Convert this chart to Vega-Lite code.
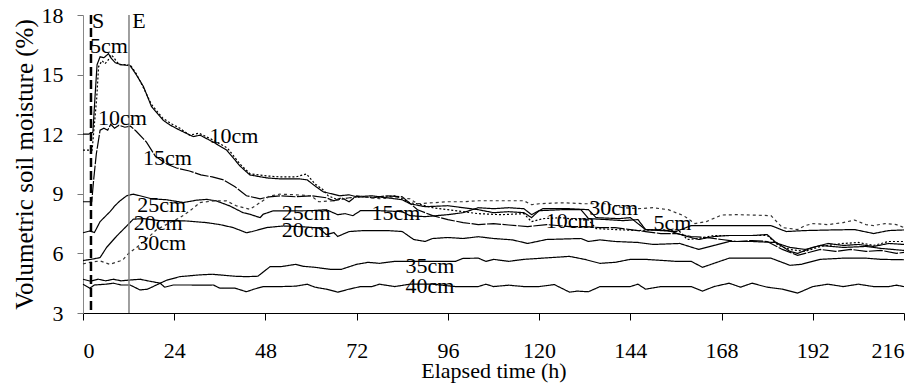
{
"$schema":"https://vega.github.io/schema/vega-lite/v6.json",
"width":821,"height":298,
"autosize":{"type":"none"},
"padding":{"left":83,"top":15,"right":20,"bottom":72},
"background":"#ffffff",
"config":{"view":{"stroke":null},"font":"Liberation Serif, Times New Roman, serif","axis":{"grid":false}},
"datasets":{
"lines":[
{"s":"5cm","h":0,"v":12.0},{"s":"5cm","h":1.5,"v":12.0},{"s":"5cm","h":2.6,"v":12.1},{"s":"5cm","h":3.2,"v":14.0},{"s":"5cm","h":3.7,"v":15.5},{"s":"5cm","h":4.5,"v":15.9},{"s":"5cm","h":5.5,"v":15.85},{"s":"5cm","h":6.7,"v":16.05},{"s":"5cm","h":7.5,"v":15.8},{"s":"5cm","h":8.5,"v":15.6},{"s":"5cm","h":10,"v":15.5},{"s":"5cm","h":12.4,"v":15.45},{"s":"5cm","h":14,"v":15.0},{"s":"5cm","h":15.9,"v":14.4},{"s":"5cm","h":18,"v":13.4},{"s":"5cm","h":21.1,"v":12.7},{"s":"5cm","h":23,"v":12.45},{"s":"5cm","h":25.5,"v":12.2},{"s":"5cm","h":29,"v":11.88},{"s":"5cm","h":30.8,"v":11.95},{"s":"5cm","h":34.3,"v":11.6},{"s":"5cm","h":37.8,"v":11.2},{"s":"5cm","h":41.3,"v":10.4},{"s":"5cm","h":43.9,"v":9.95},{"s":"5cm","h":48.3,"v":9.8},{"s":"5cm","h":52,"v":9.75},{"s":"5cm","h":57,"v":9.75},{"s":"5cm","h":59,"v":9.7},{"s":"5cm","h":61,"v":9.4},{"s":"5cm","h":63.2,"v":9.1},{"s":"5cm","h":67.6,"v":8.9},{"s":"5cm","h":70,"v":8.95},{"s":"5cm","h":72,"v":8.85},{"s":"5cm","h":76,"v":8.9},{"s":"5cm","h":80,"v":8.8},{"s":"5cm","h":84,"v":8.7},{"s":"5cm","h":86,"v":8.5},{"s":"5cm","h":90,"v":8.35},{"s":"5cm","h":96,"v":8.4},{"s":"5cm","h":100,"v":8.3},{"s":"5cm","h":104,"v":8.2},{"s":"5cm","h":108,"v":8.05},{"s":"5cm","h":112,"v":8.1},{"s":"5cm","h":116,"v":8.05},{"s":"5cm","h":118,"v":7.8},{"s":"5cm","h":120,"v":8.15},{"s":"5cm","h":126,"v":8.2},{"s":"5cm","h":131,"v":8.2},{"s":"5cm","h":133,"v":7.75},{"s":"5cm","h":138,"v":7.7},{"s":"5cm","h":142,"v":7.65},{"s":"5cm","h":146,"v":7.7},{"s":"5cm","h":148,"v":7.2},{"s":"5cm","h":154,"v":7.15},{"s":"5cm","h":158,"v":6.9},{"s":"5cm","h":162,"v":6.7},{"s":"5cm","h":166,"v":6.85},{"s":"5cm","h":170,"v":6.9},{"s":"5cm","h":176,"v":6.9},{"s":"5cm","h":180,"v":6.95},{"s":"5cm","h":182,"v":6.6},{"s":"5cm","h":186,"v":6.1},{"s":"5cm","h":188,"v":6.0},{"s":"5cm","h":192,"v":6.3},{"s":"5cm","h":196,"v":6.5},{"s":"5cm","h":200,"v":6.4},{"s":"5cm","h":204,"v":6.45},{"s":"5cm","h":208,"v":6.35},{"s":"5cm","h":212,"v":6.5},{"s":"5cm","h":216,"v":6.45},
{"s":"10cm","h":0,"v":11.2},{"s":"10cm","h":2.4,"v":11.2},{"s":"10cm","h":3.0,"v":12.5},{"s":"10cm","h":3.6,"v":13.8},{"s":"10cm","h":4.1,"v":15.4},{"s":"10cm","h":5,"v":15.7},{"s":"10cm","h":5.8,"v":15.55},{"s":"10cm","h":6.5,"v":15.7},{"s":"10cm","h":7.5,"v":16.0},{"s":"10cm","h":8.3,"v":15.8},{"s":"10cm","h":9.5,"v":15.5},{"s":"10cm","h":12.4,"v":15.5},{"s":"10cm","h":14,"v":15.05},{"s":"10cm","h":16,"v":14.3},{"s":"10cm","h":18,"v":13.5},{"s":"10cm","h":21,"v":12.8},{"s":"10cm","h":23.5,"v":12.5},{"s":"10cm","h":25.5,"v":12.3},{"s":"10cm","h":28,"v":11.95},{"s":"10cm","h":30.5,"v":12.05},{"s":"10cm","h":34.3,"v":11.7},{"s":"10cm","h":38,"v":11.3},{"s":"10cm","h":41.3,"v":10.5},{"s":"10cm","h":44,"v":10.0},{"s":"10cm","h":48.3,"v":9.9},{"s":"10cm","h":52,"v":9.85},{"s":"10cm","h":56,"v":9.85},{"s":"10cm","h":58.8,"v":10.0},{"s":"10cm","h":61,"v":9.5},{"s":"10cm","h":63.2,"v":9.2},{"s":"10cm","h":64.5,"v":8.9},{"s":"10cm","h":67,"v":8.7},{"s":"10cm","h":70,"v":8.8},{"s":"10cm","h":74,"v":8.85},{"s":"10cm","h":78,"v":8.8},{"s":"10cm","h":82,"v":8.9},{"s":"10cm","h":84,"v":8.75},{"s":"10cm","h":86,"v":8.55},{"s":"10cm","h":88,"v":8.5},{"s":"10cm","h":92,"v":8.3},{"s":"10cm","h":96,"v":8.2},{"s":"10cm","h":100,"v":8.1},{"s":"10cm","h":104,"v":8.0},{"s":"10cm","h":110,"v":7.95},{"s":"10cm","h":116,"v":8.0},{"s":"10cm","h":118,"v":7.6},{"s":"10cm","h":121,"v":7.75},{"s":"10cm","h":126,"v":7.8},{"s":"10cm","h":130,"v":7.7},{"s":"10cm","h":133,"v":7.68},{"s":"10cm","h":135,"v":7.25},{"s":"10cm","h":140,"v":7.2},{"s":"10cm","h":146,"v":7.15},{"s":"10cm","h":152,"v":7.2},{"s":"10cm","h":157,"v":7.1},{"s":"10cm","h":159,"v":6.7},{"s":"10cm","h":162,"v":6.75},{"s":"10cm","h":166,"v":6.9},{"s":"10cm","h":170,"v":6.9},{"s":"10cm","h":176,"v":6.9},{"s":"10cm","h":180,"v":6.9},{"s":"10cm","h":183,"v":6.4},{"s":"10cm","h":186,"v":6.2},{"s":"10cm","h":190,"v":6.1},{"s":"10cm","h":194,"v":6.35},{"s":"10cm","h":200,"v":6.5},{"s":"10cm","h":204,"v":6.55},{"s":"10cm","h":208,"v":6.4},{"s":"10cm","h":212,"v":6.6},{"s":"10cm","h":216,"v":6.6},
{"s":"15cm","h":0,"v":8.6},{"s":"15cm","h":2.3,"v":8.6},{"s":"15cm","h":2.8,"v":9.7},{"s":"15cm","h":3.5,"v":11.0},{"s":"15cm","h":4.5,"v":12.2},{"s":"15cm","h":5.5,"v":12.3},{"s":"15cm","h":6.5,"v":12.2},{"s":"15cm","h":7.3,"v":12.5},{"s":"15cm","h":8.3,"v":12.3},{"s":"15cm","h":9.5,"v":12.45},{"s":"15cm","h":11,"v":12.35},{"s":"15cm","h":12.5,"v":12.4},{"s":"15cm","h":14,"v":12.15},{"s":"15cm","h":16.7,"v":11.6},{"s":"15cm","h":19,"v":10.9},{"s":"15cm","h":22,"v":10.5},{"s":"15cm","h":24.6,"v":10.3},{"s":"15cm","h":28,"v":10.15},{"s":"15cm","h":31,"v":9.95},{"s":"15cm","h":34,"v":9.85},{"s":"15cm","h":37,"v":9.7},{"s":"15cm","h":40,"v":9.35},{"s":"15cm","h":43,"v":8.9},{"s":"15cm","h":46.6,"v":8.75},{"s":"15cm","h":49,"v":8.85},{"s":"15cm","h":52,"v":8.9},{"s":"15cm","h":56,"v":8.85},{"s":"15cm","h":60,"v":8.9},{"s":"15cm","h":64,"v":8.8},{"s":"15cm","h":66,"v":8.65},{"s":"15cm","h":68,"v":8.8},{"s":"15cm","h":70,"v":8.6},{"s":"15cm","h":72,"v":8.9},{"s":"15cm","h":76,"v":8.8},{"s":"15cm","h":80,"v":8.9},{"s":"15cm","h":84,"v":8.85},{"s":"15cm","h":88,"v":8.2},{"s":"15cm","h":92,"v":7.9},{"s":"15cm","h":96,"v":7.7},{"s":"15cm","h":100,"v":7.55},{"s":"15cm","h":104,"v":7.45},{"s":"15cm","h":108,"v":7.5},{"s":"15cm","h":112,"v":7.43},{"s":"15cm","h":117,"v":7.35},{"s":"15cm","h":122,"v":7.45},{"s":"15cm","h":128,"v":7.35},{"s":"15cm","h":132,"v":7.35},{"s":"15cm","h":136,"v":7.3},{"s":"15cm","h":140,"v":7.3},{"s":"15cm","h":144,"v":7.2},{"s":"15cm","h":148,"v":7.1},{"s":"15cm","h":152,"v":7.0},{"s":"15cm","h":156,"v":7.0},{"s":"15cm","h":160,"v":6.85},{"s":"15cm","h":164,"v":6.8},{"s":"15cm","h":168,"v":6.7},{"s":"15cm","h":172,"v":6.6},{"s":"15cm","h":176,"v":6.65},{"s":"15cm","h":180,"v":6.6},{"s":"15cm","h":184,"v":6.2},{"s":"15cm","h":188,"v":5.9},{"s":"15cm","h":190,"v":6.0},{"s":"15cm","h":194,"v":6.2},{"s":"15cm","h":198,"v":6.1},{"s":"15cm","h":202,"v":6.2},{"s":"15cm","h":206,"v":6.1},{"s":"15cm","h":210,"v":6.15},{"s":"15cm","h":214,"v":6.0},{"s":"15cm","h":216,"v":6.05},
{"s":"20cm","h":0,"v":5.64},{"s":"20cm","h":2.7,"v":5.72},{"s":"20cm","h":4.5,"v":5.79},{"s":"20cm","h":6.2,"v":6.3},{"s":"20cm","h":8.9,"v":6.88},{"s":"20cm","h":11.5,"v":7.38},{"s":"20cm","h":13.2,"v":7.72},{"s":"20cm","h":16,"v":7.75},{"s":"20cm","h":20,"v":7.65},{"s":"20cm","h":24,"v":7.65},{"s":"20cm","h":27.3,"v":7.63},{"s":"20cm","h":32.5,"v":7.55},{"s":"20cm","h":36,"v":7.45},{"s":"20cm","h":39.5,"v":7.3},{"s":"20cm","h":43,"v":7.04},{"s":"20cm","h":44.5,"v":7.1},{"s":"20cm","h":46.6,"v":7.21},{"s":"20cm","h":48.3,"v":7.3},{"s":"20cm","h":52.7,"v":7.38},{"s":"20cm","h":57.1,"v":7.35},{"s":"20cm","h":62,"v":7.28},{"s":"20cm","h":64,"v":6.95},{"s":"20cm","h":66,"v":7.05},{"s":"20cm","h":67,"v":6.85},{"s":"20cm","h":70,"v":7.1},{"s":"20cm","h":74,"v":7.15},{"s":"20cm","h":80,"v":7.15},{"s":"20cm","h":84,"v":7.1},{"s":"20cm","h":87,"v":6.7},{"s":"20cm","h":90,"v":6.6},{"s":"20cm","h":92,"v":6.75},{"s":"20cm","h":96,"v":6.8},{"s":"20cm","h":100,"v":6.75},{"s":"20cm","h":104,"v":6.84},{"s":"20cm","h":108,"v":6.75},{"s":"20cm","h":113,"v":6.68},{"s":"20cm","h":117,"v":6.5},{"s":"20cm","h":122,"v":6.7},{"s":"20cm","h":131,"v":6.75},{"s":"20cm","h":133,"v":6.6},{"s":"20cm","h":136,"v":6.68},{"s":"20cm","h":140,"v":6.6},{"s":"20cm","h":146,"v":6.55},{"s":"20cm","h":150,"v":6.45},{"s":"20cm","h":157,"v":6.5},{"s":"20cm","h":162,"v":6.2},{"s":"20cm","h":166,"v":6.4},{"s":"20cm","h":170,"v":6.6},{"s":"20cm","h":176,"v":6.6},{"s":"20cm","h":182,"v":6.55},{"s":"20cm","h":186,"v":6.3},{"s":"20cm","h":190,"v":6.2},{"s":"20cm","h":194,"v":6.4},{"s":"20cm","h":200,"v":6.3},{"s":"20cm","h":206,"v":6.35},{"s":"20cm","h":210,"v":6.25},{"s":"20cm","h":216,"v":6.15},
{"s":"25cm","h":0,"v":7.04},{"s":"25cm","h":1.8,"v":7.13},{"s":"25cm","h":3,"v":7.05},{"s":"25cm","h":4.5,"v":7.6},{"s":"25cm","h":7.1,"v":8.1},{"s":"25cm","h":8.4,"v":8.4},{"s":"25cm","h":9.7,"v":8.64},{"s":"25cm","h":11.5,"v":8.9},{"s":"25cm","h":13.2,"v":8.98},{"s":"25cm","h":15,"v":8.9},{"s":"25cm","h":18,"v":8.75},{"s":"25cm","h":22,"v":8.7},{"s":"25cm","h":26.4,"v":8.56},{"s":"25cm","h":29.9,"v":8.68},{"s":"25cm","h":32.5,"v":8.72},{"s":"25cm","h":35.1,"v":8.64},{"s":"25cm","h":38.6,"v":8.39},{"s":"25cm","h":42.1,"v":8.05},{"s":"25cm","h":43.9,"v":7.97},{"s":"25cm","h":46.6,"v":7.8},{"s":"25cm","h":47.4,"v":7.97},{"s":"25cm","h":50,"v":8.14},{"s":"25cm","h":55,"v":8.14},{"s":"25cm","h":60,"v":8.15},{"s":"25cm","h":64,"v":8.2},{"s":"25cm","h":67,"v":7.95},{"s":"25cm","h":69,"v":8.0},{"s":"25cm","h":71,"v":7.9},{"s":"25cm","h":73,"v":8.15},{"s":"25cm","h":78,"v":8.15},{"s":"25cm","h":84,"v":8.1},{"s":"25cm","h":86,"v":7.9},{"s":"25cm","h":90,"v":7.85},{"s":"25cm","h":96,"v":7.95},{"s":"25cm","h":100,"v":8.05},{"s":"25cm","h":104,"v":8.3},{"s":"25cm","h":108,"v":8.25},{"s":"25cm","h":112,"v":8.3},{"s":"25cm","h":116,"v":8.25},{"s":"25cm","h":118,"v":7.95},{"s":"25cm","h":121,"v":8.25},{"s":"25cm","h":128,"v":8.25},{"s":"25cm","h":133,"v":8.2},{"s":"25cm","h":135,"v":7.8},{"s":"25cm","h":141,"v":7.75},{"s":"25cm","h":144,"v":7.8},{"s":"25cm","h":148,"v":7.2},{"s":"25cm","h":152,"v":7.15},{"s":"25cm","h":156,"v":7.1},{"s":"25cm","h":160,"v":7.4},{"s":"25cm","h":168,"v":7.4},{"s":"25cm","h":176,"v":7.4},{"s":"25cm","h":181,"v":7.4},{"s":"25cm","h":185,"v":7.1},{"s":"25cm","h":190,"v":7.15},{"s":"25cm","h":197,"v":7.18},{"s":"25cm","h":203,"v":7.2},{"s":"25cm","h":208,"v":7.0},{"s":"25cm","h":212,"v":7.15},{"s":"25cm","h":216,"v":7.18},
{"s":"30cm","h":0,"v":5.47},{"s":"30cm","h":1.8,"v":5.55},{"s":"30cm","h":4.5,"v":5.62},{"s":"30cm","h":7.1,"v":5.45},{"s":"30cm","h":9.7,"v":5.62},{"s":"30cm","h":10.6,"v":5.7},{"s":"30cm","h":12,"v":6.0},{"s":"30cm","h":14.1,"v":6.3},{"s":"30cm","h":16,"v":6.6},{"s":"30cm","h":19.4,"v":7.2},{"s":"30cm","h":22.9,"v":7.55},{"s":"30cm","h":25.5,"v":7.8},{"s":"30cm","h":28.1,"v":8.14},{"s":"30cm","h":30.8,"v":8.56},{"s":"30cm","h":34.3,"v":8.64},{"s":"30cm","h":37.8,"v":8.64},{"s":"30cm","h":40.4,"v":8.39},{"s":"30cm","h":43.9,"v":8.22},{"s":"30cm","h":46.6,"v":8.56},{"s":"30cm","h":49.1,"v":8.89},{"s":"30cm","h":51.8,"v":8.98},{"s":"30cm","h":56,"v":8.95},{"s":"30cm","h":60,"v":8.9},{"s":"30cm","h":62,"v":8.6},{"s":"30cm","h":66,"v":8.65},{"s":"30cm","h":70,"v":8.8},{"s":"30cm","h":74,"v":8.85},{"s":"30cm","h":78,"v":8.75},{"s":"30cm","h":82,"v":8.8},{"s":"30cm","h":86,"v":8.75},{"s":"30cm","h":88,"v":8.5},{"s":"30cm","h":92,"v":8.55},{"s":"30cm","h":96,"v":8.6},{"s":"30cm","h":100,"v":8.6},{"s":"30cm","h":104,"v":8.65},{"s":"30cm","h":110,"v":8.65},{"s":"30cm","h":116,"v":8.65},{"s":"30cm","h":118,"v":8.45},{"s":"30cm","h":120,"v":8.5},{"s":"30cm","h":126,"v":8.55},{"s":"30cm","h":132,"v":8.5},{"s":"30cm","h":138,"v":8.5},{"s":"30cm","h":142,"v":8.3},{"s":"30cm","h":146,"v":8.25},{"s":"30cm","h":150,"v":8.3},{"s":"30cm","h":154,"v":8.2},{"s":"30cm","h":158,"v":7.9},{"s":"30cm","h":161,"v":7.5},{"s":"30cm","h":164,"v":7.6},{"s":"30cm","h":168,"v":7.93},{"s":"30cm","h":172,"v":7.95},{"s":"30cm","h":176,"v":7.93},{"s":"30cm","h":181,"v":7.9},{"s":"30cm","h":184,"v":7.3},{"s":"30cm","h":188,"v":7.2},{"s":"30cm","h":190,"v":7.4},{"s":"30cm","h":192,"v":7.5},{"s":"30cm","h":196,"v":7.45},{"s":"30cm","h":200,"v":7.55},{"s":"30cm","h":203,"v":7.68},{"s":"30cm","h":206,"v":7.45},{"s":"30cm","h":208,"v":7.4},{"s":"30cm","h":211,"v":7.5},{"s":"30cm","h":214,"v":7.45},{"s":"30cm","h":216,"v":7.3},
{"s":"35cm","h":0,"v":4.7},{"s":"35cm","h":2,"v":4.6},{"s":"35cm","h":4,"v":4.7},{"s":"35cm","h":6,"v":4.62},{"s":"35cm","h":8,"v":4.7},{"s":"35cm","h":10,"v":4.62},{"s":"35cm","h":12.4,"v":4.66},{"s":"35cm","h":15,"v":4.7},{"s":"35cm","h":17,"v":4.62},{"s":"35cm","h":20.3,"v":4.5},{"s":"35cm","h":22,"v":4.65},{"s":"35cm","h":25.5,"v":4.83},{"s":"35cm","h":30.8,"v":4.92},{"s":"35cm","h":34,"v":4.95},{"s":"35cm","h":37,"v":4.9},{"s":"35cm","h":40,"v":4.85},{"s":"35cm","h":43,"v":4.83},{"s":"35cm","h":46,"v":4.85},{"s":"35cm","h":49.2,"v":5.33},{"s":"35cm","h":52,"v":5.33},{"s":"35cm","h":56,"v":5.45},{"s":"35cm","h":58,"v":5.35},{"s":"35cm","h":61,"v":5.3},{"s":"35cm","h":65,"v":5.2},{"s":"35cm","h":68,"v":5.2},{"s":"35cm","h":72,"v":5.45},{"s":"35cm","h":75,"v":5.55},{"s":"35cm","h":78,"v":5.5},{"s":"35cm","h":82,"v":5.6},{"s":"35cm","h":86,"v":5.6},{"s":"35cm","h":92,"v":5.6},{"s":"35cm","h":98,"v":5.6},{"s":"35cm","h":100,"v":5.75},{"s":"35cm","h":104,"v":5.76},{"s":"35cm","h":106,"v":5.6},{"s":"35cm","h":108,"v":5.7},{"s":"35cm","h":112,"v":5.6},{"s":"35cm","h":116,"v":5.7},{"s":"35cm","h":120,"v":5.75},{"s":"35cm","h":124,"v":5.8},{"s":"35cm","h":128,"v":5.85},{"s":"35cm","h":132,"v":5.7},{"s":"35cm","h":136,"v":5.5},{"s":"35cm","h":140,"v":5.55},{"s":"35cm","h":144,"v":5.7},{"s":"35cm","h":148,"v":5.7},{"s":"35cm","h":152,"v":5.65},{"s":"35cm","h":156,"v":5.6},{"s":"35cm","h":160,"v":5.6},{"s":"35cm","h":163,"v":5.3},{"s":"35cm","h":166,"v":5.5},{"s":"35cm","h":170,"v":5.76},{"s":"35cm","h":176,"v":5.76},{"s":"35cm","h":181,"v":5.76},{"s":"35cm","h":186,"v":5.4},{"s":"35cm","h":189,"v":5.45},{"s":"35cm","h":194,"v":5.7},{"s":"35cm","h":200,"v":5.76},{"s":"35cm","h":206,"v":5.76},{"s":"35cm","h":210,"v":5.7},{"s":"35cm","h":216,"v":5.68},
{"s":"40cm","h":0,"v":4.45},{"s":"40cm","h":1.8,"v":4.25},{"s":"40cm","h":3,"v":4.41},{"s":"40cm","h":6,"v":4.45},{"s":"40cm","h":8,"v":4.5},{"s":"40cm","h":10,"v":4.41},{"s":"40cm","h":12.4,"v":4.41},{"s":"40cm","h":15,"v":4.16},{"s":"40cm","h":17,"v":4.2},{"s":"40cm","h":20.3,"v":4.5},{"s":"40cm","h":21.5,"v":4.3},{"s":"40cm","h":23.8,"v":4.41},{"s":"40cm","h":28,"v":4.41},{"s":"40cm","h":32,"v":4.4},{"s":"40cm","h":34.3,"v":4.41},{"s":"40cm","h":36,"v":4.25},{"s":"40cm","h":40,"v":4.25},{"s":"40cm","h":43,"v":4.07},{"s":"40cm","h":45,"v":4.2},{"s":"40cm","h":47.4,"v":4.33},{"s":"40cm","h":52,"v":4.33},{"s":"40cm","h":56,"v":4.35},{"s":"40cm","h":59,"v":4.45},{"s":"40cm","h":61,"v":4.3},{"s":"40cm","h":64,"v":4.2},{"s":"40cm","h":67,"v":4.05},{"s":"40cm","h":70,"v":4.2},{"s":"40cm","h":73,"v":4.33},{"s":"40cm","h":76,"v":4.33},{"s":"40cm","h":78,"v":4.45},{"s":"40cm","h":82,"v":4.33},{"s":"40cm","h":86,"v":4.45},{"s":"40cm","h":92,"v":4.45},{"s":"40cm","h":98,"v":4.33},{"s":"40cm","h":104,"v":4.33},{"s":"40cm","h":106,"v":4.45},{"s":"40cm","h":108,"v":4.33},{"s":"40cm","h":112,"v":4.4},{"s":"40cm","h":116,"v":4.33},{"s":"40cm","h":120,"v":4.33},{"s":"40cm","h":124,"v":4.43},{"s":"40cm","h":128,"v":4.05},{"s":"40cm","h":130,"v":4.1},{"s":"40cm","h":133,"v":4.07},{"s":"40cm","h":136,"v":4.33},{"s":"40cm","h":140,"v":4.33},{"s":"40cm","h":144,"v":4.33},{"s":"40cm","h":146,"v":4.45},{"s":"40cm","h":148,"v":4.2},{"s":"40cm","h":152,"v":4.33},{"s":"40cm","h":156,"v":4.33},{"s":"40cm","h":160,"v":4.33},{"s":"40cm","h":163,"v":4.1},{"s":"40cm","h":166,"v":4.33},{"s":"40cm","h":170,"v":4.5},{"s":"40cm","h":173,"v":4.3},{"s":"40cm","h":176,"v":4.5},{"s":"40cm","h":180,"v":4.3},{"s":"40cm","h":184,"v":4.2},{"s":"40cm","h":188,"v":4.0},{"s":"40cm","h":192,"v":4.33},{"s":"40cm","h":196,"v":4.45},{"s":"40cm","h":200,"v":4.33},{"s":"40cm","h":204,"v":4.45},{"s":"40cm","h":208,"v":4.33},{"s":"40cm","h":212,"v":4.33},{"s":"40cm","h":214,"v":4.4},{"s":"40cm","h":216,"v":4.33}
],
"labels":[
{"lab":"5cm","h":6.84,"v":16.09},{"lab":"10cm","h":10.4,"v":12.46},{"lab":"10cm","h":39.7,"v":11.56},{"lab":"15cm","h":22.2,"v":10.45},
{"lab":"25cm","h":20.7,"v":8.1},{"lab":"20cm","h":19.8,"v":7.18},{"lab":"30cm","h":20.7,"v":6.17},
{"lab":"25cm","h":58.7,"v":7.68},{"lab":"20cm","h":58.7,"v":6.83},{"lab":"15cm","h":82.3,"v":7.68},
{"lab":"30cm","h":139.6,"v":7.93},{"lab":"10cm","h":128.2,"v":7.26},{"lab":"5cm","h":155.1,"v":7.18},
{"lab":"35cm","h":91.3,"v":5.02},{"lab":"40cm","h":91.3,"v":4.01},
{"lab":"S","h":3.95,"v":17.35},{"lab":"E","h":14.7,"v":17.35}
]
},
"layer":[
{"data":{"name":"lines"},
 "mark":{"type":"line","strokeWidth":1.2},
 "encoding":{
  "x":{"field":"h","type":"quantitative","scale":{"domain":[0,216],"nice":false,"zero":false},
   "axis":{"values":[0,24,48,72,96,120,144,168,192,216],"title":"Elapsed time (h)","labelFontSize":22,"labelFont":"Liberation Serif, Times New Roman, serif","labelColor":"#000","labelBaseline":"alphabetic","labelPadding":37,"tickSize":7,"tickColor":"#000","domainColor":"#000","titleFontSize":22,"titleFont":"Liberation Serif, Times New Roman, serif","titleFontWeight":"normal","titleColor":"#000","titleX":410.5,"titleY":64,"titleBaseline":"alphabetic","titleAlign":"center"}},
  "y":{"field":"v","type":"quantitative","scale":{"domain":[3,18],"nice":false,"zero":false},
   "axis":{"values":[3,6,9,12,15,18],"title":"Volumetric soil moisture (%)","labelFontSize":22,"labelFont":"Liberation Serif, Times New Roman, serif","labelColor":"#000","labelPadding":14,"tickSize":6,"tickColor":"#777","domainColor":"#888","titleFontSize":25,"titleFont":"Liberation Serif, Times New Roman, serif","titleFontWeight":"normal","titleColor":"#000","titleX":-51,"titleY":149,"titleAngle":-90,"titleBaseline":"alphabetic","titleAlign":"center"}},
  "color":{"field":"s","type":"nominal","scale":{"domain":["5cm","10cm","15cm","20cm","25cm","30cm","35cm","40cm"],"range":["#000","#000","#000","#000","#000","#333","#000","#000"]},"legend":null},
  "strokeDash":{"field":"s","type":"nominal","scale":{"domain":["5cm","10cm","15cm","20cm","25cm","30cm","35cm","40cm"],"range":[[1,0],[2,2],[14,1.5],[1,0],[1,0],[3,3],[1,0],[1,0]]},"legend":null}
 }},
{"data":{"values":[{"t":2.1}]},"mark":{"type":"rule","color":"#000","strokeWidth":2.5,"strokeDash":[9,4]},"encoding":{"x":{"field":"t","type":"quantitative"}}},
{"data":{"values":[{"t":12.1}]},"mark":{"type":"rule","color":"#808080","strokeWidth":1.5},"encoding":{"x":{"field":"t","type":"quantitative"}}},
{"data":{"name":"labels"},
 "mark":{"type":"text","font":"Liberation Serif, Times New Roman, serif","fontSize":22,"align":"center","baseline":"alphabetic","color":"#000"},
 "encoding":{"x":{"field":"h","type":"quantitative"},"y":{"field":"v","type":"quantitative"},"text":{"field":"lab"}}}
]
}
